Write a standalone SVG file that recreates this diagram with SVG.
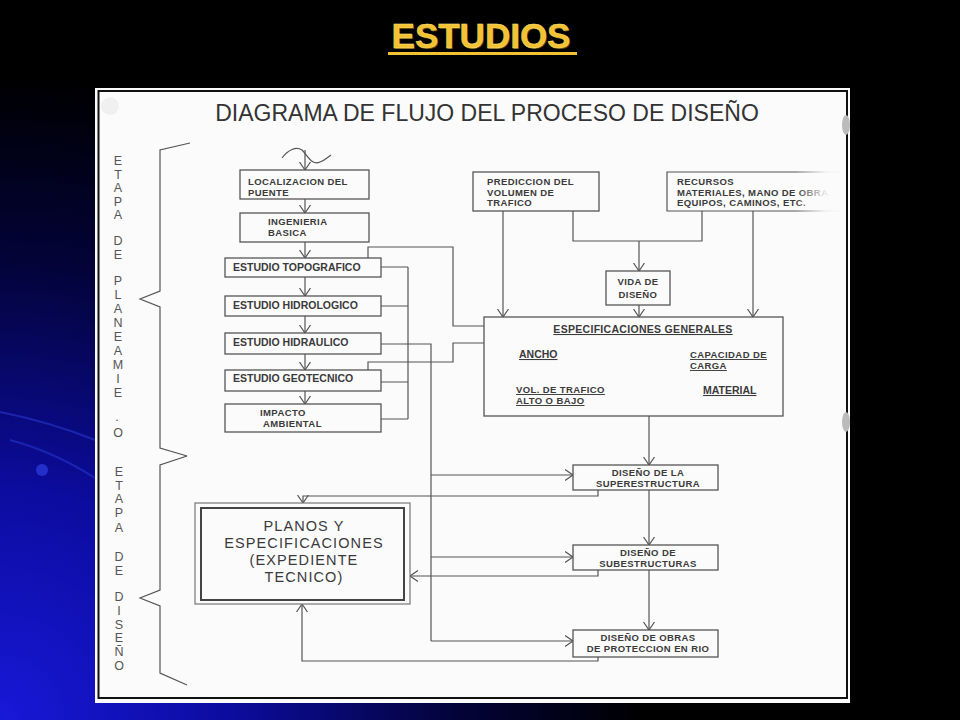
<svg xmlns="http://www.w3.org/2000/svg" width="960" height="720" viewBox="0 0 960 720">
<defs>
<radialGradient id="bg" cx="0" cy="720" r="760" gradientUnits="userSpaceOnUse">
<stop offset="0" stop-color="#1818d8"/>
<stop offset="0.3" stop-color="#0c0ca0"/>
<stop offset="0.6" stop-color="#03033a"/>
<stop offset="0.85" stop-color="#000000"/>
</radialGradient>
<linearGradient id="fade" x1="0" y1="0" x2="1" y2="0">
<stop offset="0" stop-color="#fbfbfb" stop-opacity="0"/>
<stop offset="0.6" stop-color="#fbfbfb" stop-opacity="0.9"/>
<stop offset="1" stop-color="#fbfbfb" stop-opacity="1"/>
</linearGradient>
<marker id="ah" viewBox="0 0 8 12" refX="8" refY="6" markerWidth="8" markerHeight="12" markerUnits="userSpaceOnUse" orient="auto">
<path d="M0,0.5 L8,6 L0,11.5" fill="none" stroke="#555" stroke-width="1.2"/>
</marker>
<style>
.bx{fill:#fbfbfb;stroke:#555;stroke-width:1.3}
.t{font-family:"Liberation Sans",Arial,sans-serif;font-size:10.5px;font-weight:bold;fill:#3a3a3a}
.s{font-size:9.5px;letter-spacing:0.4px}
.c{text-anchor:middle}
.u{text-decoration:underline}
.ln{fill:none;stroke:#555;stroke-width:1.2}
.ar{marker-end:url(#ah)}
.lt{font-family:"Liberation Sans",Arial,sans-serif;font-size:12.5px;fill:#555;text-anchor:middle}
</style>
</defs>
<rect width="960" height="720" fill="#000"/>
<rect width="960" height="720" fill="url(#bg)"/>
<g fill="none" stroke="#2a3ad0" stroke-opacity="0.55" stroke-width="2">
<path d="M0,412 C30,418 65,428 95,440"/>
<path d="M10,440 C40,448 70,462 95,478"/>
</g>
<circle cx="42" cy="470" r="6" fill="#2838d8" opacity="0.8"/>

<g id="title">
<text x="482" y="49" text-anchor="middle" font-family="'Liberation Sans',Arial,sans-serif" font-size="35" font-weight="bold" fill="#6a4a08">ESTUDIOS</text>
<text x="481" y="48" text-anchor="middle" font-family="'Liberation Sans',Arial,sans-serif" font-size="35" font-weight="bold" fill="#f2c232" stroke="#fde58a" stroke-width="0.4">ESTUDIOS</text>
<rect x="388" y="52" width="189" height="3" fill="#f2c232"/>
</g>

<g id="panel">
<rect x="95" y="88" width="755" height="615" fill="#fbfbfb"/>
<rect x="98.5" y="91" width="748.5" height="607" fill="none" stroke="#111" stroke-width="2"/>
<ellipse cx="846" cy="125" rx="4" ry="10" fill="#bbb"/>
<ellipse cx="846" cy="422" rx="4" ry="10" fill="#bbb"/>
<circle cx="110" cy="106" r="9" fill="#f0f0f0"/>
<text x="487" y="121" text-anchor="middle" font-family="'Liberation Sans',Arial,sans-serif" font-size="23" fill="#333">DIAGRAMA DE FLUJO DEL PROCESO DE DISEÑO</text>
</g>

<g id="etapa-planeamiento">
<path class="ln" d="M190,143 L160,150 L160,291 L140,299 L160,307 L160,448 L187,456"/>
<text class="lt"><tspan x="118" y="165">E</tspan><tspan x="118" y="178.5">T</tspan><tspan x="118" y="192">A</tspan><tspan x="118" y="205.5">P</tspan><tspan x="118" y="219">A</tspan><tspan x="118" y="245">D</tspan><tspan x="118" y="259">E</tspan><tspan x="118" y="285">P</tspan><tspan x="118" y="299">L</tspan><tspan x="118" y="313">A</tspan><tspan x="118" y="327">N</tspan><tspan x="118" y="341">E</tspan><tspan x="118" y="355">A</tspan><tspan x="118" y="369">M</tspan><tspan x="118" y="383">I</tspan><tspan x="118" y="397">E</tspan><tspan x="117" y="421">.</tspan><tspan x="118" y="437">O</tspan></text>
</g>

<g id="etapa-diseno">
<path class="ln" d="M187,456 L160,465 L160,590 L140,598 L160,606 L160,673 L187,685"/>
<text class="lt"><tspan x="119" y="476">E</tspan><tspan x="119" y="489.5">T</tspan><tspan x="119" y="503">A</tspan><tspan x="119" y="517">P</tspan><tspan x="119" y="532">A</tspan><tspan x="119" y="561">D</tspan><tspan x="119" y="574.5">E</tspan><tspan x="119" y="601">D</tspan><tspan x="119" y="615">I</tspan><tspan x="119" y="628.5">S</tspan><tspan x="119" y="642">E</tspan><tspan x="119" y="656">Ñ</tspan><tspan x="119" y="670">O</tspan></text>
</g>

<g id="connectors">
<path class="ln" d="M282,158 C288,150 296,146 302,150 C308,156 312,166 320,162 C325,160 328,157 331,155"/>
<path class="ln ar" d="M305,150 L305,170"/>
<path class="ln ar" d="M305,199 L305,213"/>
<path class="ln ar" d="M305,242 L305,258"/>
<path class="ln ar" d="M305,277 L305,296"/>
<path class="ln ar" d="M305,316 L305,333"/>
<path class="ln ar" d="M305,354 L305,370"/>
<path class="ln ar" d="M305,391 L305,404"/>
<path class="ln" d="M381,267 L408,267 M381,306 L408,306 M381,382 L408,382 M381,419 L408,419 M408,267 L408,419"/>
<path class="ln" d="M368,258 L368,247 L453,247 L453,326 L484,326"/>
<path class="ln" d="M368,370 L368,362 L453,362 L453,343 L484,343"/>
<path class="ln" d="M381,344 L431,344 L431,641"/>
<path class="ln ar" d="M431,475 L573,475"/>
<path class="ln ar" d="M431,557 L573,557"/>
<path class="ln ar" d="M431,641 L573,641"/>
<path class="ln ar" d="M503,211 L503,317"/>
<path class="ln" d="M573,211 L573,241 L702,241 L702,211"/>
<path class="ln ar" d="M639,241 L639,271"/>
<path class="ln ar" d="M639,305 L639,317"/>
<path class="ln ar" d="M753,211 L753,317"/>
<path class="ln ar" d="M649,416 L649,465"/>
<path class="ln ar" d="M649,490 L649,545"/>
<path class="ln ar" d="M649,570 L649,630"/>
<path class="ln ar" d="M598,490 L598,496 L303,496 L303,503"/>
<path class="ln ar" d="M598,570 L598,576 L410,576"/>
<path class="ln ar" d="M598,657 L598,661 L302,661 L302,604"/>
</g>

<g id="localizacion">
<rect class="bx" x="240" y="170" width="129" height="29"/>
<text class="t s"><tspan x="248" y="185">LOCALIZACION DEL</tspan><tspan x="248" y="196">PUENTE</tspan></text>
</g>
<g id="ingenieria">
<rect class="bx" x="240" y="213" width="129" height="29"/>
<text class="t s"><tspan x="268" y="225">INGENIERIA</tspan><tspan x="268" y="236">BASICA</tspan></text>
</g>
<g id="topografico">
<rect class="bx" x="225" y="258" width="156" height="19"/>
<text class="t" x="233" y="271">ESTUDIO TOPOGRAFICO</text>
</g>
<g id="hidrologico">
<rect class="bx" x="225" y="296" width="156" height="20"/>
<text class="t" x="233" y="309">ESTUDIO HIDROLOGICO</text>
</g>
<g id="hidraulico">
<rect class="bx" x="225" y="333" width="156" height="21"/>
<text class="t" x="233" y="346">ESTUDIO HIDRAULICO</text>
</g>
<g id="geotecnico">
<rect class="bx" x="225" y="370" width="156" height="21"/>
<text class="t" x="233" y="382">ESTUDIO GEOTECNICO</text>
</g>
<g id="impacto">
<rect class="bx" x="225" y="404" width="156" height="28"/>
<text class="t s"><tspan x="260" y="416">IMPACTO</tspan><tspan x="263" y="427">AMBIENTAL</tspan></text>
</g>

<g id="prediccion">
<rect class="bx" x="473" y="172" width="126" height="39"/>
<text class="t s"><tspan x="487" y="185">PREDICCION DEL</tspan><tspan x="487" y="196">VOLUMEN DE</tspan><tspan x="487" y="206">TRAFICO</tspan></text>
</g>
<g id="recursos">
<path class="ln" d="M846,172 L667,172 L667,211 L846,211"/>
<text class="t s"><tspan x="677" y="185">RECURSOS</tspan><tspan x="677" y="196">MATERIALES, MANO DE OBRA</tspan><tspan x="677" y="206">EQUIPOS, CAMINOS, ETC.</tspan></text>
<rect x="795" y="168" width="51" height="48" fill="url(#fade)"/>
</g>
<g id="vida">
<rect class="bx" x="606" y="271" width="64" height="34"/>
<text class="t s c"><tspan x="638" y="285">VIDA DE</tspan><tspan x="638" y="298">DISEÑO</tspan></text>
</g>
<g id="especificaciones">
<rect class="bx" x="484" y="317" width="299" height="99"/>
<text class="t c u" x="643" y="333" font-weight="normal" letter-spacing="0.3">ESPECIFICACIONES GENERALES</text>
<text class="t u" x="519" y="358">ANCHO</text>
<text class="t s u"><tspan x="690" y="358">CAPACIDAD DE</tspan><tspan x="690" y="369">CARGA</tspan></text>
<text class="t s u" font-weight="normal"><tspan x="516" y="393">VOL. DE TRAFICO</tspan><tspan x="516" y="404">ALTO O BAJO</tspan></text>
<text class="t u" x="703" y="394">MATERIAL</text>
</g>

<g id="superestructura">
<rect class="bx" x="573" y="465" width="145" height="25"/>
<text class="t s c"><tspan x="648" y="476">DISEÑO DE LA</tspan><tspan x="648" y="487">SUPERESTRUCTURA</tspan></text>
</g>
<g id="subestructuras">
<rect class="bx" x="573" y="545" width="145" height="25"/>
<text class="t s c"><tspan x="648" y="556">DISEÑO DE</tspan><tspan x="648" y="567">SUBESTRUCTURAS</tspan></text>
</g>
<g id="obras">
<rect class="bx" x="573" y="630" width="145" height="27"/>
<text class="t s c"><tspan x="648" y="641">DISEÑO DE OBRAS</tspan><tspan x="648" y="652">DE PROTECCION EN RIO</tspan></text>
</g>

<g id="planos">
<rect x="195" y="503" width="215" height="101" fill="#fbfbfb" stroke="#777" stroke-width="1.2"/>
<rect x="201" y="508" width="203" height="92" fill="none" stroke="#444" stroke-width="2"/>
<text font-family="'Liberation Sans',Arial,sans-serif" font-size="14.5" letter-spacing="1.1" fill="#3a3a3a" text-anchor="middle"><tspan x="304" y="531">PLANOS Y</tspan><tspan x="304" y="548">ESPECIFICACIONES</tspan><tspan x="304" y="565">(EXPEDIENTE</tspan><tspan x="304" y="582">TECNICO)</tspan></text>
</g>
</svg>
